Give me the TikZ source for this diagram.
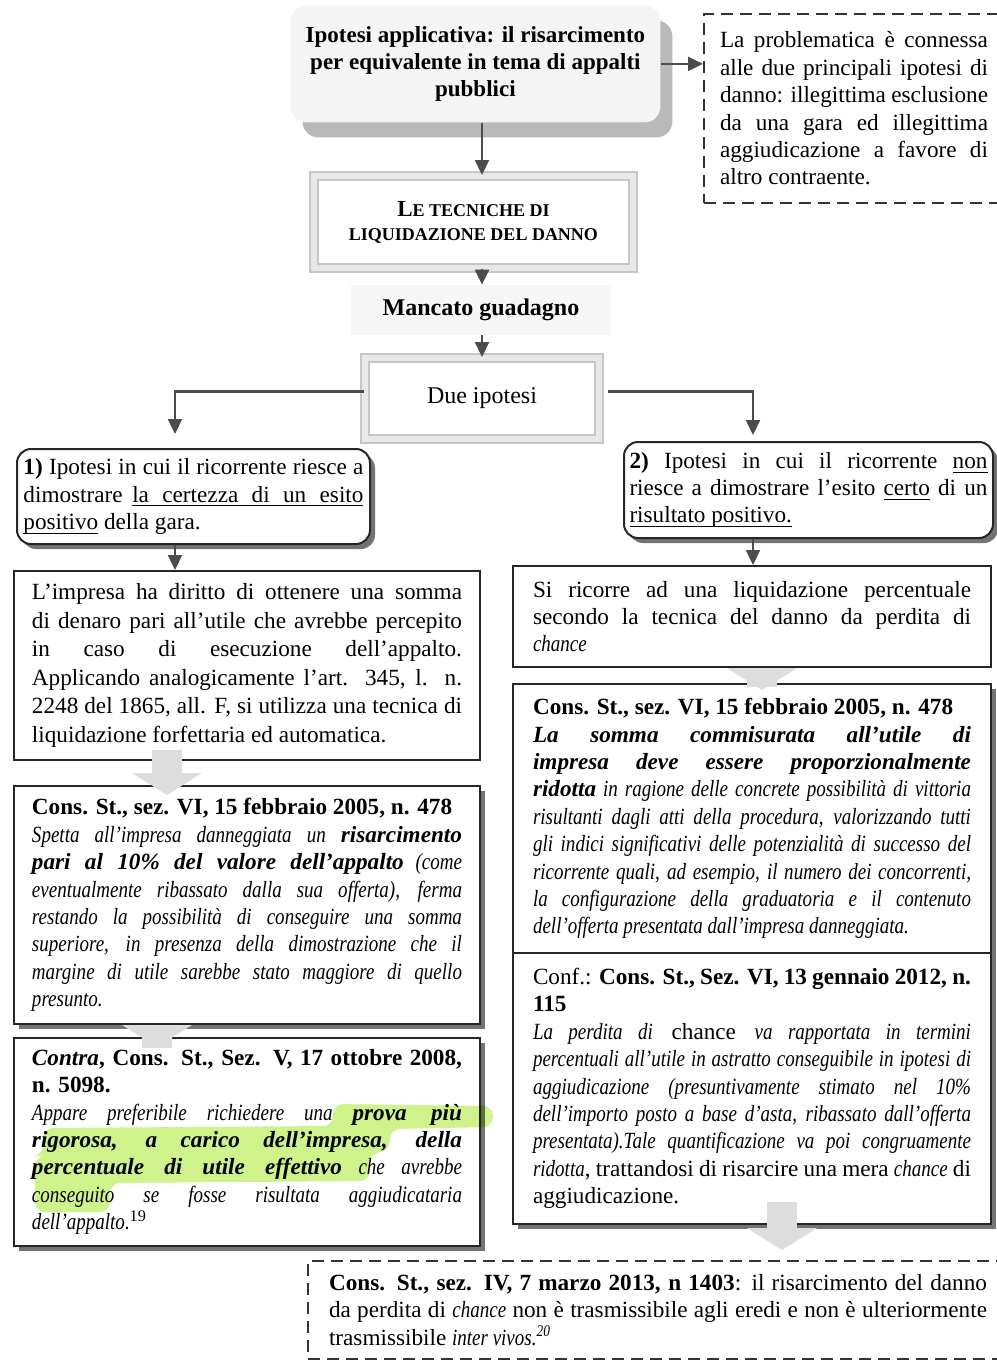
\documentclass[tikz,border=0pt]{standalone}
\usepackage{fontspec}
\setmainfont{Liberation Serif}[ItalicFeatures={FakeStretch=0.82}]
\usetikzlibrary{arrows.meta,shadows}
\definecolor{hilite}{RGB}{190,240,100}
\newcommand\ulword[1]{\leavevmode\setbox0\hbox{#1}\rlap{\rule[-2.2pt]{\wd0}{0.5pt}}\box0\relax}
\newcommand\ulspace{\leaders\hrule height -1.7pt depth 2.2pt\hskip 0.25em plus 0.25em minus 0.08em\relax}

\begin{document}
\begin{tikzpicture}[
  x=0.5pt, y=-0.5pt,
  txt/.style={font=\fontsize{11.6}{13.7}\selectfont},
  box/.style={txt, draw=black!85, line width=1pt, fill=white, anchor=north west, align=justify, inner ysep=0pt},
  shbox/.style={box, drop shadow={shadow xshift=2.5pt, shadow yshift=-2.5pt, fill=black!55, opacity=1}},
  roundbox/.style={shbox, rounded corners=7pt},
  dashbox/.style={box, draw=black!80, dash pattern=on 6pt off 3.5pt},
  framebox/.style={draw=gray!45, line width=1pt, double=gray!18, double distance=3pt, fill=white, anchor=north west, align=center, inner sep=0pt},
  topbox/.style={fill=gray!9, rounded corners=8pt, anchor=north west, align=center, inner sep=0pt,
    font=\fontsize{11.5}{13.3}\selectfont\bfseries,
    drop shadow={shadow xshift=6pt, shadow yshift=-7.5pt, fill=gray!55, opacity=1}},
  arr/.style={-{Triangle[width=7pt,length=7.5pt]}, line width=1.1pt, draw=black!70},
  fatarr/.style={-{Triangle[width=35pt,length=11pt,line width=0pt]}, line width=15pt, draw=gray!27}
]
\useasboundingbox (0,0) rectangle (997,1362);

% top of the chart
\node[topbox, minimum width=185pt, minimum height=58.5pt] (top) at (290,5)
  {Ipotesi applicativa: il risarcimento\\per equivalente in tema di appalti\\pubblici};
\node[dashbox, text width=134pt, inner xsep=8pt, minimum height=94.5pt] (prob) at (703,13)
  {La problematica è connessa\linebreak alle due principali ipotesi di\linebreak danno: illegittima esclusione\linebreak da una gara ed illegittima\linebreak aggiudicazione a favore di\linebreak altro contraente.};
\node[framebox, minimum width=159.5pt, minimum height=46pt, font=\fontsize{9}{12}\selectfont\bfseries] (tech) at (313,175)
  {{\fontsize{11.5}{12}\selectfont L}E TECNICHE DI\\LIQUIDAZIONE DEL DANNO};
\node[fill=gray!7, minimum width=130pt, minimum height=25pt, font=\fontsize{12}{14}\selectfont\bfseries] (manc) at (481,310)
  {Mancato guadagno};
\node[framebox, minimum width=117pt, minimum height=40.5pt, font=\fontsize{12}{14}\selectfont] (due) at (364,357)
  {Due ipotesi};

% the two cases
\node[roundbox, text width=170pt, inner xsep=3.25pt, minimum height=47.5pt] (ip1) at (16,448)
  {\textbf{1)} Ipotesi in cui il ricorrente riesce a\linebreak dimostrare \ulword{la}\ulspace\ulword{certezza}\ulspace\ulword{di}\ulspace\ulword{un}\ulspace\ulword{esito}\linebreak \ulword{positivo} della gara.};
\node[roundbox, text width=179pt, inner xsep=2.75pt, minimum height=48pt] (ip2) at (623,441)
  {\textbf{2)} Ipotesi in cui il ricorrente \ulword{non}\linebreak riesce a dimostrare l'esito \ulword{certo} di un\linebreak \ulword{risultato}\ulspace\ulword{positivo.}};

% left column
\node[box, text width=215pt, inner xsep=9pt, minimum height=94.5pt, font=\fontsize{11.6}{14.3}\selectfont] (utile) at (13,570)
  {L'impresa ha diritto di ottenere una somma\linebreak di denaro pari all'utile che avrebbe percepito\linebreak in caso di esecuzione dell'appalto.\linebreak Applicando analogicamente l'art. 345, l. n.\linebreak 2248 del 1865, all. F, si utilizza una tecnica di\linebreak liquidazione forfettaria ed automatica.};
\node[shbox, text width=215pt, inner xsep=9pt, minimum height=119pt] (cs478a) at (13,785)
  {\textbf{Cons. St., sez. VI, 15 febbraio 2005, n. 478}\\ \textit{Spetta all'impresa danneggiata un \textbf{risarcimento}\linebreak \textbf{pari al 10\% del valore dell'appalto} (come\linebreak eventualmente ribassato dalla sua offerta), ferma\linebreak restando la possibilità di conseguire una somma\linebreak superiore, in presenza della dimostrazione che il\linebreak margine di utile sarebbe stato maggiore di quello\linebreak presunto.}};
\node[shbox, text width=215pt, inner xsep=9pt, minimum height=104pt] (cs5098) at (13,1037)
  {\textbf{\textit{Contra}, Cons. St., Sez. V, 17 ottobre 2008,}\linebreak \textbf{n. 5098.}\\ \textit{Appare preferibile richiedere una \textbf{prova più}\linebreak \textbf{rigorosa, a carico dell'impresa, della}\linebreak \textbf{percentuale di utile effettivo} che avrebbe\linebreak conseguito se fosse risultata aggiudicataria\linebreak dell'appalto.}\textsuperscript{19}};

% right column
\node[box, text width=219pt, inner xsep=10pt, minimum height=50.5pt] (chance) at (512,565)
  {Si ricorre ad una liquidazione percentuale\linebreak secondo la tecnica del danno da perdita di\linebreak \textit{chance}};
\node[shbox, text width=219pt, inner xsep=10pt, minimum height=134.5pt] (cs478b) at (512,683)
  {\textbf{Cons. St., sez. VI, 15 febbraio 2005, n. 478}\\ \textit{\textbf{La somma commisurata all'utile di}\linebreak \textbf{impresa deve essere proporzionalmente}\linebreak \textbf{ridotta} in ragione delle concrete possibilità di vittoria\linebreak risultanti dagli atti della procedura, valorizzando tutti\linebreak gli indici significativi delle potenzialità di successo del\linebreak ricorrente quali, ad esempio, il numero dei concorrenti,\linebreak la configurazione della graduatoria e il contenuto\linebreak dell'offerta presentata dall'impresa danneggiata.}};
\node[shbox, text width=219pt, inner xsep=10pt, minimum height=135.5pt] (cs115) at (512,952)
  {Conf.: \textbf{Cons. St., Sez. VI, 13 gennaio 2012, n.}\linebreak \textbf{115}\\ \textit{La perdita di} chance \textit{va rapportata in termini}\linebreak \textit{percentuali all'utile in astratto conseguibile in ipotesi di}\linebreak \textit{aggiudicazione (presuntivamente stimato nel 10\%}\linebreak \textit{dell'importo posto a base d'asta, ribassato dall'offerta}\linebreak \textit{presentata).Tale quantificazione va poi congruamente}\linebreak \textit{ridotta}, trattandosi di risarcire una mera \textit{chance} di\linebreak aggiudicazione.};
\node[dashbox, text width=329pt, inner xsep=10.5pt, minimum height=49pt] (cs1403) at (307,1260)
  {\textbf{Cons. St., sez. IV, 7 marzo 2013, n 1403}: il risarcimento del danno\linebreak da perdita di \textit{chance} non è trasmissibile agli eredi e non è ulteriormente\linebreak trasmissibile \textit{inter vivos.\textsuperscript{20}}};

% highlighter on the Contra box
\fill[hilite, opacity=.75, blend mode=multiply, rounded corners=5pt]
  (333,1104) -- (493,1106) -- (493,1127) -- (390,1129) -- (390,1151) -- (370,1153) -- (370,1181)
  -- (110,1183) -- (110,1212) -- (35,1212) -- (35,1157) -- (43,1155) -- (43,1128) -- (333,1126) -- cycle;

\coordinate (lx) at (175,0);
\coordinate (rx) at (753,0);
\coordinate (f1) at (167,0);
\coordinate (f2) at (157,0);
\coordinate (f3) at (762,0);
\coordinate (f4) at (782,0);

\draw[arr] (top.south -| due.north) -- (tech.north -| due.north);
\draw[arr] (top.east) -- (top.east -| prob.west);
\draw[arr] (tech.south -| due.north) -- (manc.north -| due.north);
\draw[arr] (manc.south -| due.north) -- (due.north);
\draw[arr, shorten >=7pt] ([yshift=3.5pt]due.west) -| (ip1.north -| lx);
\draw[arr, shorten <=4pt, shorten >=3pt] ([yshift=3.5pt]due.east) -| (ip2.north -| rx);
\draw[arr] (ip1.south -| lx) -- (utile.north -| lx);
\draw[arr] (ip2.south -| rx) -- (chance.north -| rx);

\draw[fatarr, shorten <=-5.5pt, shorten >=-5pt] (utile.south -| f1) -- (cs478a.north -| f1);
\draw[fatarr, shorten <=-11.5pt, shorten >=-5pt] (cs478a.south -| f2) -- (cs5098.north -| f2);
\draw[fatarr, shorten <=-9.5pt, shorten >=-3.5pt] (chance.south -| f3) -- (cs478b.north -| f3);
\draw[fatarr, shorten <=-11.5pt, shorten >=5pt] (cs115.south -| f4) -- (cs1403.north -| f4);

\end{tikzpicture}
\end{document}
